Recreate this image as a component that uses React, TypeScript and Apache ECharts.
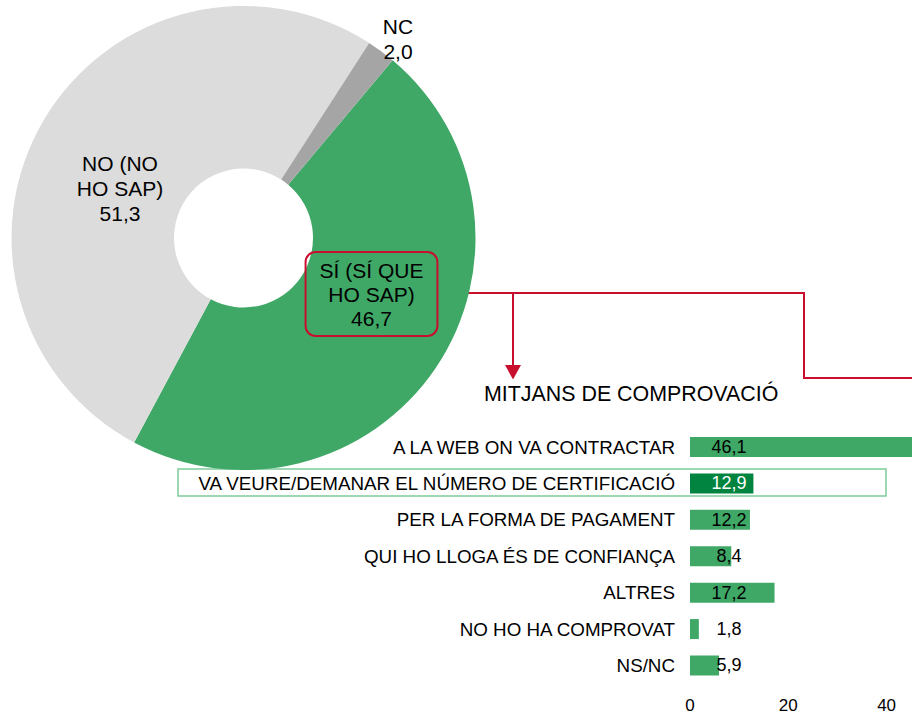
import React, { useEffect, useRef } from "react";
import * as echarts from "echarts";

const pieNames = ["SÍ (SÍ QUE\nHO SAP)", "NO (NO\nHO SAP)", "NC"];
const pieValues = [46.7, 51.3, 2.0];
const pieColors = ["#3fa866", "#dcdcdc", "#a5a5a5"];
const pieLabelPos = [
  [371.5, 294],
  [120, 188],
  [398, 39],
];

const barCategories = [
  "A LA WEB ON VA CONTRACTAR",
  "VA VEURE/DEMANAR EL NÚMERO DE CERTIFICACIÓ",
  "PER LA FORMA DE PAGAMENT",
  "QUI HO LLOGA ÉS DE CONFIANÇA",
  "ALTRES",
  "NO HO HA COMPROVAT",
  "NS/NC",
];
const barValues = [46.1, 12.9, 12.2, 8.4, 17.2, 1.8, 5.9];
const highlightIndex = 1;

const fmt = (v: number) => v.toFixed(1).replace(".", ",");

export default function App() {
  const ref = useRef<HTMLDivElement>(null);
  useEffect(() => {
    document.body.style.margin = "0";
    if (!ref.current) return;
    const chart = echarts.init(ref.current, undefined, { renderer: "svg" });
    const font = "Liberation Sans, Arial, sans-serif";
    const red = "#c8102e";
    const option: any = {
      animation: false,
      textStyle: { fontFamily: font },
      grid: {
        left: 690,
        top: 428.8,
        width: 294.9,
        height: 254.9,
        containLabel: false,
        outerBoundsMode: "none",
      },
      xAxis: {
        type: "value",
        min: 0,
        max: 60,
        interval: 20,
        axisLine: { show: false },
        axisTick: { show: false },
        splitLine: { show: false },
        axisLabel: {
          fontSize: 17,
          color: "#000",
          margin: 13,
          fontFamily: font,
          showMaxLabel: false,
        },
      },
      yAxis: {
        type: "category",
        inverse: true,
        data: barCategories,
        axisLine: { show: false },
        axisTick: { show: false },
        axisLabel: { fontSize: 18.8, color: "#000", margin: 15, fontFamily: font },
      },
      series: [
        {
          type: "pie",
          center: [243.5, 238],
          radius: [69.5, 232],
          startAngle: 50,
          clockwise: true,
          data: pieNames.map((n, i) => ({
            name: n,
            value: pieValues[i],
            itemStyle: { color: pieColors[i] },
            label:
              i === 0
                ? {
                    borderColor: red,
                    borderWidth: 2,
                    borderRadius: 10,
                    padding: [7, 14, 5, 14],
                    lineHeight: 24,
                  }
                : {},
          })),
          label: {
            show: true,
            position: "inside",
            formatter: (p: any) => `${p.name}\n${fmt(p.value)}`,
            fontSize: 21,
            lineHeight: 25,
            color: "#000",
            fontFamily: font,
            align: "center",
          },
          labelLine: { show: false },
          labelLayout: (p: any) => ({
            x: pieLabelPos[p.dataIndex][0],
            y: pieLabelPos[p.dataIndex][1],
            align: "center",
            verticalAlign: "middle",
          }),
          emphasis: { disabled: true },
        },
        {
          type: "bar",
          barWidth: 20,
          data: barValues.map((v, i) => ({
            value: v,
            itemStyle: { color: i === highlightIndex ? "#00843f" : "#3fa866" },
            label: { color: i === highlightIndex ? "#fff" : "#000" },
          })),
          label: {
            show: true,
            position: [39, "50%"],
            align: "center",
            verticalAlign: "middle",
            fontSize: 18,
            fontFamily: font,
            formatter: (p: any) => fmt(p.value),
          },
          emphasis: { disabled: true },
        },
      ],
      graphic: [
        {
          type: "rect",
          shape: { x: 178, y: 469, width: 708, height: 27 },
          style: { fill: "none", stroke: "#7ccb98", lineWidth: 1.5 },
          z: 1,
        },
        {
          type: "text",
          x: 484,
          y: 394,
          style: {
            text: "MITJANS DE COMPROVACIÓ",
            fontSize: 21.4,
            fontFamily: font,
            fill: "#000",
            verticalAlign: "middle",
            align: "left",
          },
        },
        {
          type: "polyline",
          shape: { points: [[437, 293], [804, 293], [804, 378], [912, 378]] },
          style: { stroke: red, lineWidth: 2, fill: "none" },
        },
        {
          type: "line",
          shape: { x1: 513, y1: 293, x2: 513, y2: 367 },
          style: { stroke: red, lineWidth: 2 },
        },
        {
          type: "polygon",
          shape: { points: [[505, 365], [521, 365], [513, 379.5]] },
          style: { fill: red },
        },
      ],
    };
    chart.setOption(option);
    return () => chart.dispose();
  }, []);
  return <div ref={ref} style={{ width: 912, height: 714 }} />;
}
